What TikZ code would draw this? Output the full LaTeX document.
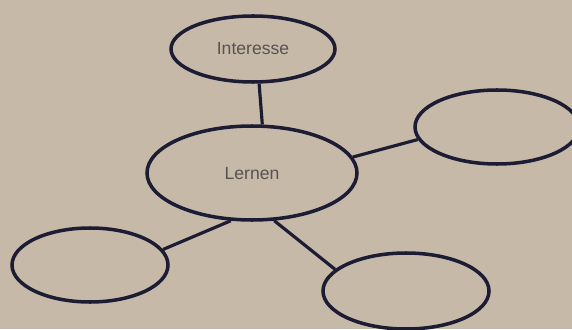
\documentclass[tikz,border=0pt]{standalone}
\usepackage{fontspec}
\setsansfont{Liberation Sans}
\usepackage{tikz}
\usetikzlibrary{shapes.geometric}
\usepackage{xcolor}
\definecolor{papier}{RGB}{198,185,167}
\definecolor{stift}{RGB}{28,28,52}
\definecolor{schrift}{RGB}{88,82,82}

\tikzset{
  blase/.style={ellipse,draw=stift,line width=2pt,font=\sffamily\fontsize{10}{12}\selectfont,text=schrift},
  verbinder/.style={draw=stift,line width=1.8pt}
}

\begin{document}
\begin{tikzpicture}
    \fill[papier] (0,0) rectangle (11.44,6.58);
    \useasboundingbox (0,0) rectangle (11.44,6.58);
    % Mitte und Zweige
    \node[blase,minimum width=4.2cm,minimum height=1.88cm,text depth=-0.2cm] (lernen) at (5.04,3.12) {Lernen};
    \node[blase,minimum width=3.28cm,minimum height=1.32cm] (interesse) at (5.06,5.60) {Interesse};
    \node[blase,minimum width=3.28cm,minimum height=1.48cm] (rechts) at (9.94,4.04) {};
    \node[blase,minimum width=3.12cm,minimum height=1.48cm] (links) at (1.80,1.28) {};
    \node[blase,minimum width=3.32cm,minimum height=1.52cm] (unten) at (8.12,0.76) {};
    \draw[verbinder] (interesse.280) -- (lernen.78);
    \draw[verbinder] (lernen.9) -- (rechts.189);
    \draw[verbinder] (lernen.246) -- (links.12);
    \draw[verbinder] (lernen.295) -- (unten.163);
\end{tikzpicture}
\end{document}
